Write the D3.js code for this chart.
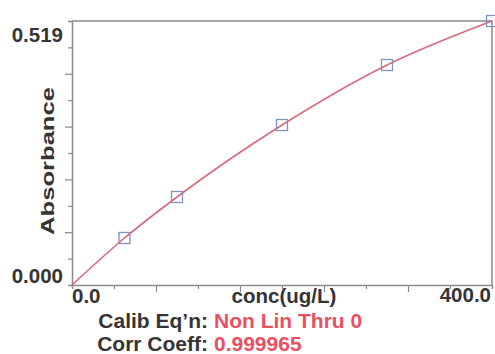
<!DOCTYPE html>
<html>
<head>
<meta charset="utf-8">
<script src="https://cdn.jsdelivr.net/npm/d3@7"></script>
<style>
  body { margin: 0; background: #fff; }
  text { font-family: 'Liberation Sans', Arial, sans-serif; font-weight: bold; }
</style>
</head>
<body>
<div id="chart"></div>
<script>
// calibration standards
let conc = [50, 100, 200, 300, 400]
let absorbance = [0.0924, 0.173, 0.3145, 0.4325, 0.519]

let xDomain = [0, 400]
let yDomain = [0, 0.519]
let xTickLabels = ['0.0', '400.0']
let yTickLabels = ['0.000', '0.519']
let calibEqn = 'Non Lin Thru 0'
let corrCoeff = '0.999965'

let margin = { top: 21, left: 72, right: 3, bottom: 69 }
let width = 495 - margin.left - margin.right
let height = 354 - margin.top - margin.bottom

let svg = d3
  .select('#chart')
  .append('svg')
  .attr('width', 495)
  .attr('height', 354)
  .append('g')
  .attr('transform', 'translate(' + margin.left + ',' + margin.top + ')')

let xPositionScale = d3.scaleLinear().domain(xDomain).range([0, width])
let yPositionScale = d3.scaleLinear().domain(yDomain).range([height, 0])

let axisColor = '#8a8a8a'
let textColor = '#353535'
let red = '#e8515f'

// frame top + right
svg
  .append('path')
  .attr('d', 'M0,0H' + width + 'V' + height)
  .attr('fill', 'none')
  .attr('stroke', axisColor)
  .attr('stroke-width', 1.5)

// x axis: ticks every 40, longer every 80
let xTicks = d3.range(40, 400, 40)
let xAxis = d3
  .axisBottom(xPositionScale)
  .tickValues(xTicks)
  .tickSize(4)
  .tickFormat('')
let xg = svg
  .append('g')
  .attr('class', 'axis x-axis')
  .attr('transform', 'translate(0,' + height + ')')
  .call(xAxis)
xg.selectAll('.tick line').attr('y2', d => (d % 80 === 0 ? 7 : 4))

// y axis: 10 divisions
let yTicks = d3.range(1, 10).map(i => (yDomain[1] * i) / 10)
let yAxis = d3
  .axisLeft(yPositionScale)
  .tickValues(yTicks)
  .tickSize(4)
  .tickFormat('')
let yg = svg
  .append('g')
  .attr('class', 'axis y-axis')
  .call(yAxis)
yg.selectAll('.tick line').attr('x2', (d, i) => (i % 2 === 1 ? -7 : -4))

svg.selectAll('.axis .domain').attr('stroke', axisColor).attr('stroke-width', 1.5)
svg.selectAll('.axis .tick line').attr('stroke', axisColor).attr('stroke-width', 1.2)

// tick labels
svg
  .append('text')
  .attr('x', -9)
  .attr('y', yPositionScale(yDomain[1]) + 21)
  .attr('text-anchor', 'end')
  .attr('font-size', 20.5)
  .attr('fill', textColor)
  .text(yTickLabels[1])
svg
  .append('text')
  .attr('x', -9)
  .attr('y', yPositionScale(yDomain[0]) - 2)
  .attr('text-anchor', 'end')
  .attr('font-size', 20.5)
  .attr('fill', textColor)
  .text(yTickLabels[0])
svg
  .append('text')
  .attr('x', xPositionScale(xDomain[0]))
  .attr('y', height + 18)
  .attr('font-size', 20.5)
  .attr('fill', textColor)
  .text(xTickLabels[0])
svg
  .append('text')
  .attr('x', xPositionScale(xDomain[1]) - 1)
  .attr('y', height + 17)
  .attr('text-anchor', 'end')
  .attr('font-size', 20.5)
  .attr('fill', textColor)
  .text(xTickLabels[1])

// axis titles
svg
  .append('text')
  .attr('x', width / 2 + 2)
  .attr('y', height + 18)
  .attr('text-anchor', 'middle')
  .attr('font-size', 20.5)
  .attr('fill', textColor)
  .text('conc(ug/L)')

svg
  .append('text')
  .attr('transform', 'translate(-18,' + (161 - margin.top) + ') rotate(-90)')
  .attr('text-anchor', 'middle')
  .attr('font-size', 18)
  .attr('textLength', 148)
  .attr('lengthAdjust', 'spacingAndGlyphs')
  .attr('fill', textColor)
  .text('Absorbance')

// calibration curve through zero
let curvePoints = [[0, 0]].concat(conc.map((c, i) => [c, absorbance[i]]))
let line = d3
  .line()
  .x(d => xPositionScale(d[0]))
  .y(d => yPositionScale(d[1]))
  .curve(d3.curveMonotoneX)

svg
  .append('path')
  .datum(curvePoints)
  .attr('d', line)
  .attr('fill', 'none')
  .attr('stroke', '#d9687a')
  .attr('stroke-width', 1.6)

// standards
let s = 11
svg
  .selectAll('.std')
  .data(conc)
  .enter()
  .append('rect')
  .attr('class', 'std')
  .attr('x', d => xPositionScale(d) - s / 2)
  .attr('y', (d, i) => yPositionScale(absorbance[i]) - s / 2)
  .attr('width', s)
  .attr('height', s)
  .attr('fill', 'none')
  .attr('stroke', '#7f93b5')
  .attr('stroke-width', 1.3)

// footer
let footer = [
  ['Calib Eq\u2019n:', calibEqn, 328],
  ['Corr Coeff:', corrCoeff, 351]
]
footer.forEach(f => {
  svg
    .append('text')
    .attr('x', 208 - margin.left)
    .attr('y', f[2] - margin.top)
    .attr('font-size', 21)
    .attr('text-anchor', 'end')
    .attr('fill', textColor)
    .text(f[0])
  svg
    .append('text')
    .attr('x', 214 - margin.left)
    .attr('y', f[2] - margin.top)
    .attr('font-size', 21)
    .attr('fill', red)
    .text(f[1])
})
</script>
</body>
</html>
